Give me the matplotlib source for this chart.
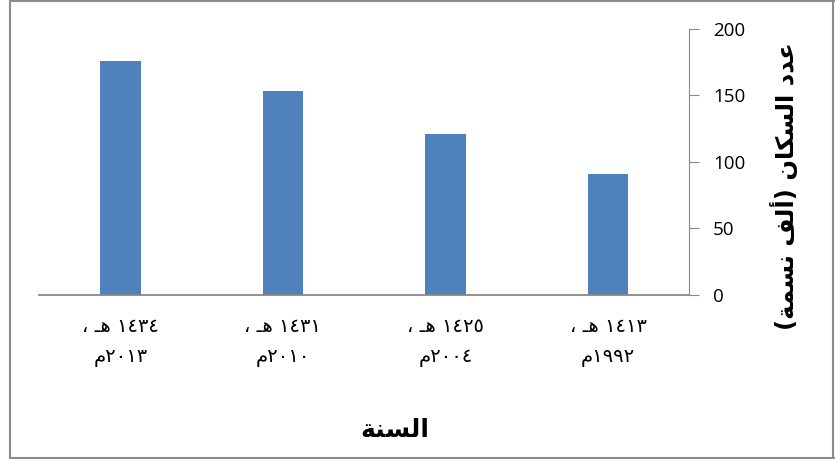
import matplotlib
matplotlib.use("Agg")
import matplotlib.pyplot as plt
from matplotlib.lines import Line2D

# data (categories in logical Arabic order, first one drawn at the right)
years = ["١٤١٣ هـ ،\n١٩٩٢م", "١٤٢٥ هـ ،\n٢٠٠٤م", "١٤٣١ هـ ،\n٢٠١٠م", "١٤٣٤ هـ ،\n٢٠١٣م"]
population = [91, 121, 153, 176]
yticks = [0, 50, 100, 150, 200]
ylabel = "عدد السكان (ألف نسمة)"
xlabel = "السنة"

# simple Arabic shaping: iso, fin, ini, med
FORMS = {
    "ا": (0xFE8D, 0xFE8E, None, None),
    "أ": (0xFE83, 0xFE84, None, None),
    "ة": (0xFE93, 0xFE94, None, None),
    "د": (0xFEA9, 0xFEAA, None, None),
    "س": (0xFEB1, 0xFEB2, 0xFEB3, 0xFEB4),
    "ع": (0xFEC9, 0xFECA, 0xFECB, 0xFECC),
    "ف": (0xFED1, 0xFED2, 0xFED3, 0xFED4),
    "ك": (0xFED9, 0xFEDA, 0xFEDB, 0xFEDC),
    "ل": (0xFEDD, 0xFEDE, 0xFEDF, 0xFEE0),
    "م": (0xFEE1, 0xFEE2, 0xFEE3, 0xFEE4),
    "ن": (0xFEE5, 0xFEE6, 0xFEE7, 0xFEE8),
    "ه": (0xFEE9, 0xFEEA, 0xFEEB, 0xFEEC),
}


def joins_next(c):
    return c == "ـ" or (c in FORMS and FORMS[c][2] is not None)


def joins_prev(c):
    return c == "ـ" or c in FORMS


def shape_line(s):
    out = []
    for i, c in enumerate(s):
        if c not in FORMS:
            out.append(c)
            continue
        p = i > 0 and joins_next(s[i - 1])
        n = i < len(s) - 1 and joins_next(c) and joins_prev(s[i + 1])
        iso, fin, ini, med = FORMS[c]
        if p and n:
            f = med
        elif p:
            f = fin
        elif n:
            f = ini
        else:
            f = iso
        out.append(chr(f))
    # visual order: reverse, keep digit runs left to right, mirror brackets
    rev = "".join(out)[::-1]
    res, run = "", ""
    for c in rev:
        if "٠" <= c <= "٩" or c.isdigit():
            run += c
        else:
            res += run[::-1]
            run = ""
            res += {"(": ")", ")": "("}.get(c, c)
    res += run[::-1]
    return res


def ar(s):
    return "\n".join(shape_line(l) for l in s.split("\n"))


fig = plt.figure(figsize=(8.35, 4.59), dpi=100)
ax = fig.add_axes([39 / 835, 1 - 294.7 / 459, (689.3 - 39) / 835, (294.7 - 29) / 459])

x = range(len(years))
ax.bar(x, population, width=0.25, color="#4F81BD")
ax.set_xlim(len(years) - 0.5, -0.5)
ax.set_ylim(0, 200)
ax.set_yticks(yticks)

for s in ["top", "left"]:
    ax.spines[s].set_visible(False)
ax.spines["right"].set_color("#888888")
ax.spines["bottom"].set_color("#888888")
ax.spines["bottom"].set_linewidth(1.3)
ax.yaxis.tick_right()
ax.tick_params(axis="y", length=7, color="#888888", pad=10, labelsize=13.5)
for t in ax.get_yticklabels():
    t.set_fontfamily("Open Sans")

ax.set_xticks(list(x))
ax.set_xticklabels([ar(y) for y in years], fontsize=14, linespacing=1.75,
                   family="DejaVu Sans")
ax.tick_params(axis="x", length=0, pad=16)

fig.text(0.94, 0.595, ar(ylabel), rotation=90, ha="center", va="center",
         fontsize=17.5, fontweight="bold", family="DejaVu Sans")
fig.text(395 / 835, 1 - 430 / 459, ar(xlabel), ha="center", va="center",
         fontsize=18, fontweight="bold", family="DejaVu Sans")

# outer chart frame
fc = "#8c8c8c"
fig.add_artist(Line2D([9.5 / 835, 9.5 / 835], [0.003, 0.998], color=fc, lw=1.5))
fig.add_artist(Line2D([9.5 / 835, 1], [0.998, 0.998], color=fc, lw=1.5))
fig.add_artist(Line2D([9.5 / 835, 1], [0.003, 0.003], color=fc, lw=1.5))
fig.add_artist(Line2D([0.998, 0.998], [0.003, 0.998], color=fc, lw=1.5))

fig.savefig("out.png", dpi=100)
